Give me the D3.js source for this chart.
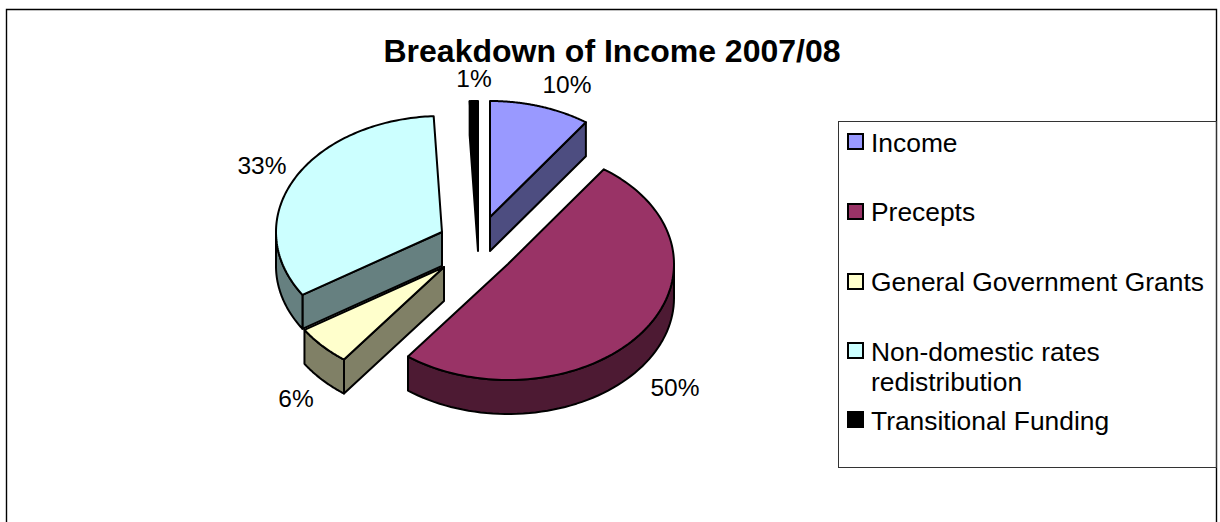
<!DOCTYPE html>
<html><head><meta charset="utf-8">
<script src="https://cdnjs.cloudflare.com/ajax/libs/d3/7.8.5/d3.min.js"></script>
<style>html,body{margin:0;padding:0;background:#fff}svg{display:block}text{font-family:"Liberation Sans",Arial,sans-serif;fill:#000}</style>
</head><body><svg id="c" width="1220" height="522"></svg>
<script>
const title = "Breakdown of Income 2007/08";
const categories = ["Income","Precepts","General Government Grants","Non-domestic rates redistribution","Transitional Funding"];
const values = [9.8, 50.49, 5.6, 33.31, 0.8];
const pctLabels = ["10%","50%","6%","33%","1%"];
const topColors = ["#9999FF","#993366","#FFFFCC","#CCFFFF","#000000"];
const sideColors = ["#4D4D80","#4D1A33","#808066","#668080","#000000"];
// layout: exploded-slice offsets and label offsets, relative to the pie centre
const explodeX = [21, 39, -25, -27, 9];
const explodeY = [-26, 21, 24, -11, -26];
const labelX = [98, 206, -173, -207, 5];
const labelY = [-158, 145, 156, -77, -164];
const drawOrder = [4, 0, 3, 2, 1];
const legendLines = [["Income"],["Precepts"],["General Government Grants"],["Non-domestic rates","redistribution"],["Transitional Funding"]];

const cx = 469, cy = 243, rx = 166, ry = 116, depth = 34;
const svg = d3.select("#c");
const sx = d3.scaleLinear().domain([-1,1]).range([-rx,rx]);
const sy = d3.scaleLinear().domain([-1,1]).range([-ry,ry]);

svg.append("path").attr("d","M6.5 522V9.5H1216.5V522").attr("fill","none").attr("stroke","#000").attr("stroke-width",1.4);

svg.append("text").attr("x",612).attr("y",62).attr("text-anchor","middle")
  .attr("font-size",32).attr("font-weight","bold").text(title);

const arcs = d3.pie().sort(null).value(d=>d)(values);
const px = a => sx(Math.sin(a)), py = a => sy(-Math.cos(a));
const HALF = Math.PI/2, PI = Math.PI;
const applyS = s => s.attr("stroke","#000").attr("stroke-width",2).attr("stroke-linejoin","round");

const lineGen = d3.line();
const areaGen = d3.area().x(a=>px(a)).y0(a=>py(a)).y1(a=>py(a)+depth);

drawOrder.forEach(i=>{
  const d = arcs[i];
  const g = svg.append("g").attr("transform",`translate(${cx+explodeX[i]},${cy+explodeY[i]})`);
  const a0 = d.startAngle, a1 = d.endAngle;
  if (Math.cos(a0-HALF) < -1e-6) {
    applyS(g.append("path").attr("fill",sideColors[i]).attr("d",
      lineGen([[0,0],[px(a0),py(a0)],[px(a0),py(a0)+depth],[0,depth]])+"Z"));
  }
  if (Math.cos(a1+HALF) < -1e-6) {
    applyS(g.append("path").attr("fill",sideColors[i]).attr("d",
      lineGen([[0,0],[px(a1),py(a1)],[px(a1),py(a1)+depth],[0,depth]])+"Z"));
  }
  const w0 = Math.max(a0,HALF), w1 = Math.min(a1,PI+HALF);
  if (w1 > w0) {
    const steps = d3.range(0,61).map(k=>w0+(w1-w0)*k/60);
    applyS(g.append("path").attr("fill",sideColors[i]).attr("d",areaGen(steps)+"Z"));
  }
  const n = d3.range(0,121).map(k=>a0+(a1-a0)*k/120).map(a=>[px(a),py(a)]);
  applyS(g.append("path").attr("fill",topColors[i]).attr("d",lineGen([[0,0],...n])+"Z"));
  svg.append("text").attr("x",cx+labelX[i]).attr("y",cy+labelY[i]+8).attr("text-anchor","middle")
    .attr("font-size",24.5).text(pctLabels[i]);
});

svg.append("rect").attr("x",838.5).attr("y",121.5).attr("width",378).attr("height",346)
  .attr("fill","none").attr("stroke","#333").attr("stroke-width",1);
const legendBoxY = [134, 204, 274, 343, 412];
const legendTextY = [151.5, 220.5, 290.5, 360.5, 430];
categories.forEach((c,i)=>{
  svg.append("rect").attr("x",848).attr("y",legendBoxY[i]).attr("width",15).attr("height",15)
    .attr("fill",topColors[i]).attr("stroke","#000").attr("stroke-width",2);
  legendLines[i].forEach((t,j)=>{
    svg.append("text").attr("x",871).attr("y",legendTextY[i]+j*30.5).attr("font-size",26.4).text(t);
  });
});
</script></body></html>
